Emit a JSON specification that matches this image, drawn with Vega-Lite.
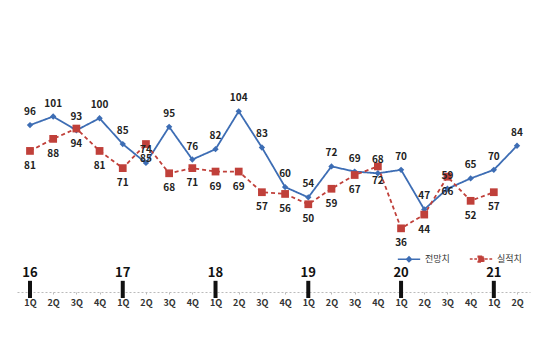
{
  "$schema": "https://vega.github.io/schema/vega-lite/v6.json",
  "width": 513,
  "height": 277,
  "autosize": {"type": "none"},
  "padding": {"left": 17, "top": 15, "right": 20, "bottom": 67},
  "background": "white",
  "config": {"view": {"stroke": null}, "font": "Noto Sans CJK KR"},
  "datasets": {
    "bsi": [
      {"period": "16.1Q", "series": "전망치", "value": 96},
      {"period": "16.2Q", "series": "전망치", "value": 101},
      {"period": "16.3Q", "series": "전망치", "value": 93},
      {"period": "16.4Q", "series": "전망치", "value": 100},
      {"period": "17.1Q", "series": "전망치", "value": 85},
      {"period": "17.2Q", "series": "전망치", "value": 74},
      {"period": "17.3Q", "series": "전망치", "value": 95},
      {"period": "17.4Q", "series": "전망치", "value": 76},
      {"period": "18.1Q", "series": "전망치", "value": 82},
      {"period": "18.2Q", "series": "전망치", "value": 104},
      {"period": "18.3Q", "series": "전망치", "value": 83},
      {"period": "18.4Q", "series": "전망치", "value": 60},
      {"period": "19.1Q", "series": "전망치", "value": 54},
      {"period": "19.2Q", "series": "전망치", "value": 72},
      {"period": "19.3Q", "series": "전망치", "value": 69},
      {"period": "19.4Q", "series": "전망치", "value": 68},
      {"period": "20.1Q", "series": "전망치", "value": 70},
      {"period": "20.2Q", "series": "전망치", "value": 47},
      {"period": "20.3Q", "series": "전망치", "value": 59},
      {"period": "20.4Q", "series": "전망치", "value": 65},
      {"period": "21.1Q", "series": "전망치", "value": 70},
      {"period": "21.2Q", "series": "전망치", "value": 84},
      {"period": "16.1Q", "series": "실적치", "value": 81},
      {"period": "16.2Q", "series": "실적치", "value": 88},
      {"period": "16.3Q", "series": "실적치", "value": 94},
      {"period": "16.4Q", "series": "실적치", "value": 81},
      {"period": "17.1Q", "series": "실적치", "value": 71},
      {"period": "17.2Q", "series": "실적치", "value": 85},
      {"period": "17.3Q", "series": "실적치", "value": 68},
      {"period": "17.4Q", "series": "실적치", "value": 71},
      {"period": "18.1Q", "series": "실적치", "value": 69},
      {"period": "18.2Q", "series": "실적치", "value": 69},
      {"period": "18.3Q", "series": "실적치", "value": 57},
      {"period": "18.4Q", "series": "실적치", "value": 56},
      {"period": "19.1Q", "series": "실적치", "value": 50},
      {"period": "19.2Q", "series": "실적치", "value": 59},
      {"period": "19.3Q", "series": "실적치", "value": 67},
      {"period": "19.4Q", "series": "실적치", "value": 72},
      {"period": "20.1Q", "series": "실적치", "value": 36},
      {"period": "20.2Q", "series": "실적치", "value": 44},
      {"period": "20.3Q", "series": "실적치", "value": 66},
      {"period": "20.4Q", "series": "실적치", "value": 52},
      {"period": "21.1Q", "series": "실적치", "value": 57}
    ],
    "years": [
      {"period": "16.1Q", "year": "16"},
      {"period": "17.1Q", "year": "17"},
      {"period": "18.1Q", "year": "18"},
      {"period": "19.1Q", "year": "19"},
      {"period": "20.1Q", "year": "20"},
      {"period": "21.1Q", "year": "21"}
    ]
  },
  "encoding": {
    "x": {
      "field": "period",
      "type": "ordinal",
      "scale": {
        "type": "point",
        "padding": 0.56,
        "domain": ["16.1Q","16.2Q","16.3Q","16.4Q","17.1Q","17.2Q","17.3Q","17.4Q","18.1Q","18.2Q","18.3Q","18.4Q","19.1Q","19.2Q","19.3Q","19.4Q","20.1Q","20.2Q","20.3Q","20.4Q","21.1Q","21.2Q"]
      },
      "axis": {
        "title": null,
        "labelExpr": "split(datum.value, '.')[1]",
        "labelAngle": 0,
        "labelFontSize": 9,
        "labelFontWeight": "bold",
        "labelColor": "#333",
        "labelPadding": 4,
        "domainColor": "#bbbbbb",
        "domainDash": [2, 2],
        "tickColor": "#bbbbbb",
        "tickSize": 2
      }
    }
  },
  "layer": [
    {
      "data": {"name": "bsi"},
      "mark": {"type": "line", "strokeWidth": 1.8},
      "encoding": {
        "y": {"field": "value", "type": "quantitative", "scale": {"domain": [-1, 160], "nice": false, "zero": false}, "axis": null},
        "color": {
          "field": "series", "type": "nominal",
          "scale": {"domain": ["전망치", "실적치"], "range": ["#3d6db4", "#c0403a"]},
          "legend": {
            "title": null, "orient": "none", "legendX": 380, "legendY": 232,
            "direction": "horizontal", "symbolSize": 500,
            "symbolStrokeWidth": 1.5, "labelFontSize": 9, "labelColor": "#333", "columnPadding": 16,
            "symbolType": "M-1,0H1M0,-0.22L0.22,0L0,0.22L-0.22,0Z",
            "encode": {"symbols": {"update": {
              "shape": {"signal": "datum.value === '전망치' ? 'M-1,0H1M0,-0.22L0.22,0L0,0.22L-0.22,0Z' : 'M-1,0H-0.75M-0.6,0H-0.35M0.35,0H0.6M0.75,0H1M-0.25,-0.25H0.25V0.25H-0.25Z'"},
              "strokeDash": {"value": [1, 0]}
            }}}
          }
        },
        "strokeDash": {
          "field": "series", "type": "nominal",
          "scale": {"domain": ["전망치", "실적치"], "range": [[1, 0], [4, 3]]},
          "legend": null
        }
      }
    },
    {
      "data": {"name": "bsi"},
      "transform": [{"filter": "datum.series === '전망치'"}],
      "mark": {"type": "point", "filled": true, "opacity": 1, "shape": "diamond", "size": 40},
      "encoding": {
        "y": {"field": "value", "type": "quantitative"},
        "color": {"field": "series", "type": "nominal", "legend": null}
      }
    },
    {
      "data": {"name": "bsi"},
      "transform": [{"filter": "datum.series === '실적치'"}],
      "mark": {"type": "point", "filled": true, "opacity": 1, "shape": "square", "size": 60},
      "encoding": {
        "y": {"field": "value", "type": "quantitative"},
        "color": {"field": "series", "type": "nominal", "legend": null}
      }
    },
    {
      "data": {"name": "bsi"},
      "transform": [{"filter": "datum.series === '전망치'"}],
      "mark": {"type": "text", "dy": -13, "fontSize": 10, "fontWeight": "bold", "color": "#222"},
      "encoding": {
        "y": {"field": "value", "type": "quantitative"},
        "text": {"field": "value", "type": "quantitative"}
      }
    },
    {
      "data": {"name": "bsi"},
      "transform": [{"filter": "datum.series === '실적치'"}],
      "mark": {"type": "text", "dy": 15, "fontSize": 10, "fontWeight": "bold", "color": "#222"},
      "encoding": {
        "y": {"field": "value", "type": "quantitative"},
        "text": {"field": "value", "type": "quantitative"}
      }
    },
    {
      "data": {"name": "years"},
      "mark": {"type": "rule", "strokeWidth": 4, "color": "#111"},
      "encoding": {
        "y": {"datum": 5.5, "type": "quantitative"},
        "y2": {"datum": -4.5}
      }
    },
    {
      "data": {"name": "years"},
      "mark": {"type": "text", "fontSize": 13, "fontWeight": "bold", "color": "#111"},
      "encoding": {
        "y": {"datum": 10, "type": "quantitative"},
        "text": {"field": "year", "type": "nominal"}
      }
    }
  ]
}
